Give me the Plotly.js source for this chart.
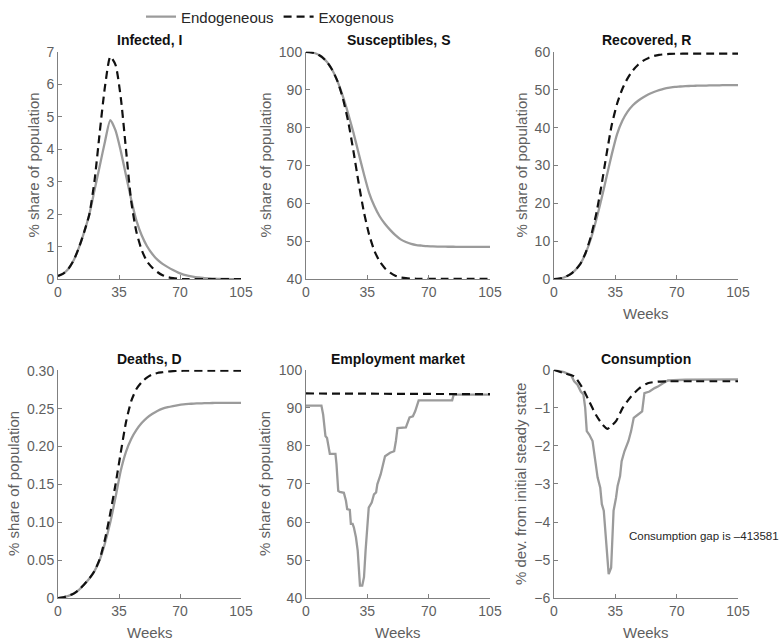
<!DOCTYPE html>
<html>
<head>
<meta charset="utf-8">
<script src="https://cdn.plot.ly/plotly-3.0.1.min.js"></script>
<style>html,body{margin:0;padding:0;background:#fff;}#chart{width:781px;height:644px;}</style>
</head>
<body>
<div id="chart"></div>
<script>
// ---------- data ----------
const weeks = [0,3,6,9,12,15,18,21,24,27,30,33,36,39,42,45,48,51,54,57,60,63,66,69,72,75,78,81,84,87,90,93,96,99,102,105];

const infectedEndo = [0.1,0.17,0.32,0.58,0.97,1.45,2.0,2.75,3.5,4.25,4.9,4.58,3.95,3.2,2.45,1.8,1.35,1.02,0.78,0.6,0.47,0.37,0.28,0.2,0.14,0.1,0.07,0.05,0.03,0.02,0.012,0.008,0.005,0.002,0,0];
const infectedExo  = [0.1,0.17,0.32,0.58,0.97,1.45,2.0,3.05,4.55,5.95,6.85,6.6,5.6,4.0,2.4,1.45,0.9,0.55,0.36,0.22,0.12,0.06,0.03,0.01,0,0,0,0,0,0,0,0,0,0,0,0];

const suscEndo = [100,99.85,99.5,98.7,97.3,95.2,92.2,88.3,83.8,78.8,73.3,67.8,62.8,59.3,56.6,54.6,53,51.6,50.5,49.8,49.3,49,48.85,48.7,48.65,48.6,48.6,48.55,48.55,48.5,48.5,48.5,48.5,48.5,48.5,48.5];
const suscExo  = [100,99.85,99.5,98.7,97.3,95.2,92.2,87.8,81.8,74,65.5,57.8,51.8,47.5,44.7,42.9,41.7,40.9,40.45,40.25,40.15,40.1,40.1,40.1,40.1,40.1,40.1,40.1,40.1,40.1,40.1,40.1,40.1,40.1,40.1,40.1];

const recEndo = [0,0.15,0.5,1.2,2.3,4.0,6.8,10.6,15.5,21,27,33,38.3,41.8,44.2,45.9,47.1,48.0,48.8,49.4,49.9,50.3,50.55,50.75,50.85,50.95,51.0,51.05,51.1,51.1,51.15,51.15,51.2,51.2,51.2,51.2];
const recExo  = [0,0.15,0.5,1.2,2.3,4.0,6.9,11.2,17,24.5,33,40.8,46.3,50.2,53,55.1,56.6,57.7,58.4,58.9,59.2,59.35,59.45,59.5,59.5,59.55,59.55,59.55,59.55,59.55,59.55,59.55,59.55,59.55,59.55,59.55];

const deathEndo = [0,0.001,0.003,0.006,0.011,0.018,0.026,0.036,0.051,0.073,0.1,0.133,0.168,0.193,0.21,0.222,0.231,0.238,0.243,0.247,0.25,0.252,0.2535,0.2547,0.2556,0.2562,0.2567,0.257,0.2572,0.2574,0.2575,0.2576,0.2576,0.2576,0.2576,0.2576];
const deathExo  = [0,0.001,0.003,0.006,0.011,0.018,0.026,0.036,0.052,0.078,0.112,0.15,0.192,0.232,0.26,0.276,0.285,0.291,0.295,0.297,0.298,0.299,0.2995,0.2998,0.3,0.3,0.3,0.3,0.3,0.3,0.3,0.3,0.3,0.3,0.3,0.3];

const empWeeks = [0,8.8,9.8,11.1,12,13.6,16.8,17.4,18.4,19.3,21.6,22.8,23.5,25,25.6,26.6,27.3,28.5,29.5,30.4,30.8,32.1,33.1,34,34.6,35.2,35.8,37.5,38.8,40,40.7,42.6,44.2,45.1,48,50.3,51.3,52.2,57,58,59.1,61,62.3,64.3,83.4,84.3,105];
const empEndo  = [90.6,90.6,88.2,82.6,82.1,77.9,77.9,75.2,68.2,67.9,67.7,65.6,63.4,63.2,59.5,59.5,58.6,56,52.5,47.3,43.3,43.3,45.5,52.5,56,59.5,63.8,65.1,67.3,67.8,69.9,72.5,75.2,77.3,78.2,78.6,81.3,84.7,84.9,86,87.5,87.8,89.1,92,92,93.5,93.5];
const empExoWeeks = [0,105];
const empExo = [93.8,93.6];

const consWeeks = [0,5.7,9.6,11.5,13.4,15.3,16.8,17.8,18.7,20.1,22,22.9,23.9,24.9,26.4,27.3,28.4,29.3,30.2,31.2,32.6,34,35.4,36.3,37.7,38.6,40.2,42.5,44,45.5,47.8,50.3,51.6,54.5,57.4,59.3,62.2,65,75,105];
const consEndo  = [0,-0.06,-0.13,-0.3,-0.39,-0.57,-0.65,-1.0,-1.61,-1.7,-1.87,-2.18,-2.48,-2.83,-3.1,-3.53,-3.7,-4.23,-4.93,-5.37,-5.2,-3.7,-3.36,-3.05,-2.79,-2.4,-2.14,-1.87,-1.61,-1.26,-1.18,-1.09,-0.61,-0.57,-0.48,-0.44,-0.35,-0.28,-0.26,-0.25];
const consExoWeeks = [0,5.7,11.5,16.3,20.1,23.9,27.7,30.6,32.5,35.4,39.2,44,48.8,53.5,59.3,65,80,105];
const consExo      = [0,-0.09,-0.17,-0.48,-0.83,-1.18,-1.44,-1.55,-1.48,-1.35,-1.0,-0.70,-0.48,-0.35,-0.31,-0.3,-0.3,-0.3];

const panelTitles = ['Infected, I','Susceptibles, S','Recovered, R','Deaths, D','Employment market','Consumption'];
const yTitles = ['% share of population','% share of population','% share of population','% share of population','% share of population','% dev. from initial steady state'];
const xTitle = 'Weeks';
const seriesNames = ['Endogeneous','Exogenous'];
const xTicks = [0,35,70,105];
const deathTicks = [0,0.05,0.10,0.15,0.20,0.25,0.30];
const deathTickText = ['0','0.05','0.10','0.15','0.20','0.25','0.30'];
const gapText = 'Consumption gap is \u2013413581';

// ---------- styling ----------
const FONT = 'Liberation Sans, Arial, Helvetica, sans-serif';
const GRAY = '#9b9b9b';
const BLACK = '#111111';
const AXC = '#808080';
const TXC = '#5f5f5f';

function solid(x, y, ax, show, shape) {
  return {x:x, y:y, xaxis:'x'+ax, yaxis:'y'+ax, type:'scatter', mode:'lines', name:seriesNames[0],
    showlegend:show, line:{color:GRAY, width:2.3, shape:shape||'spline', smoothing:0.6}};
}
function dashed(x, y, ax, show, shape) {
  return {x:x, y:y, xaxis:'x'+ax, yaxis:'y'+ax, type:'scatter', mode:'lines', name:seriesNames[1],
    showlegend:show, line:{color:BLACK, width:2.2, dash:'8px,5px', shape:shape||'spline', smoothing:0.6}};
}

const traces = [
  solid(weeks, infectedEndo, '', true), dashed(weeks, infectedExo, '', true),
  solid(weeks, suscEndo, '2', false), dashed(weeks, suscExo, '2', false),
  solid(weeks, recEndo, '3', false), dashed(weeks, recExo, '3', false),
  solid(weeks, deathEndo, '4', false), dashed(weeks, deathExo, '4', false),
  solid(empWeeks, empEndo, '5', false, 'linear'), dashed(empExoWeeks, empExo, '5', false, 'linear'),
  solid(consWeeks, consEndo, '6', false, 'linear'), dashed(consExoWeeks, consExo, '6', false),
];

const W = 781, H = 644;
const colX = [[58,241],[306,490],[554,738]];
const rowY = [[50,278],[369,598]];
function xd(c){return [colX[c][0]/W, colX[c][1]/W];}
function yd(r){return [1-rowY[r][1]/H, 1-rowY[r][0]/H];}

function baseAxis() {
  return {showline:true, linecolor:AXC, linewidth:1, mirror:false, ticks:'inside', ticklen:4,
    tickcolor:AXC, tickwidth:1, showgrid:false, zeroline:false, fixedrange:true,
    tickfont:{family:FONT, size:14, color:TXC}};
}
function xAxis(c, anchor) {
  const a = baseAxis();
  Object.assign(a, {domain:xd(c), anchor:anchor, range:[0,105], tickmode:'array', tickvals:xTicks});
  return a;
}
function yAxis(r, anchor, range, extra) {
  const a = baseAxis();
  Object.assign(a, {domain:yd(r), anchor:anchor, range:range}, extra);
  return a;
}

const layout = {
  width:W, height:H, margin:{l:0,r:0,t:0,b:0}, paper_bgcolor:'#fff', plot_bgcolor:'rgba(0,0,0,0)',
  font:{family:FONT, color:TXC},
  showlegend:true,
  legend:{orientation:'h', x:270/W, xanchor:'center', y:1-15/H, yanchor:'middle',
    font:{family:FONT, size:15, color:'#262626'},
    bgcolor:'rgba(0,0,0,0)', itemwidth:30, tracegroupgap:0},
  xaxis: xAxis(0,'y'),
  yaxis: yAxis(0,'x',[0,7],{dtick:1, tick0:0}),
  xaxis2: xAxis(1,'y2'),
  yaxis2: yAxis(0,'x2',[40,100],{dtick:10, tick0:0}),
  xaxis3: xAxis(2,'y3'),
  yaxis3: yAxis(0,'x3',[0,60],{dtick:10, tick0:0}),
  xaxis4: xAxis(0,'y4'),
  yaxis4: yAxis(1,'x4',[0,0.3012],{tickmode:'array', tickvals:deathTicks, ticktext:deathTickText}),
  xaxis5: xAxis(1,'y5'),
  yaxis5: yAxis(1,'x5',[40,100],{dtick:10, tick0:0}),
  xaxis6: xAxis(2,'y6'),
  yaxis6: yAxis(1,'x6',[-6,0],{dtick:1, tick0:0}),
  annotations: []
};

// panel titles
const titleRowsY = [38, 358];
panelTitles.forEach(function(t, i){
  const c = i % 3, r = Math.floor(i/3);
  layout.annotations.push({text:'<b>'+t+'</b>', xref:'paper', yref:'paper',
    x:(colX[c][0]+colX[c][1])/2/W, y:1-titleRowsY[r]/H, xanchor:'center', yanchor:'middle',
    showarrow:false, font:{family:FONT, size:14, color:'#111'}});
});
// y axis titles
const yTitleX = [33, 265, 521, 14, 265, 521];
yTitles.forEach(function(t, i){
  const r = Math.floor(i/3);
  layout.annotations.push({text:t, xref:'paper', yref:'paper', textangle:-90,
    x:yTitleX[i]/W, y:1-(rowY[r][0]+rowY[r][1])/2/H, xanchor:'center', yanchor:'middle',
    showarrow:false, font:{family:FONT, size:15, color:TXC}});
});
// x axis titles (panels 3-6)
const xTitlePanels = [[2,0,312],[0,1,632],[1,1,632],[2,1,632]];
xTitlePanels.forEach(function(p){
  layout.annotations.push({text:xTitle, xref:'paper', yref:'paper',
    x:(colX[p[0]][0]+colX[p[0]][1])/2/W, y:1-p[2]/H, xanchor:'center', yanchor:'middle',
    showarrow:false, font:{family:FONT, size:15, color:TXC}});
});
layout.annotations.push({text:gapText, xref:'paper', yref:'paper', x:627/W, y:1-536/H,
  xanchor:'left', yanchor:'middle', showarrow:false, font:{family:FONT, size:11.5, color:'#262626'}});

Plotly.newPlot('chart', traces, layout, {staticPlot:true, displayModeBar:false});
</script>
</body>
</html>
